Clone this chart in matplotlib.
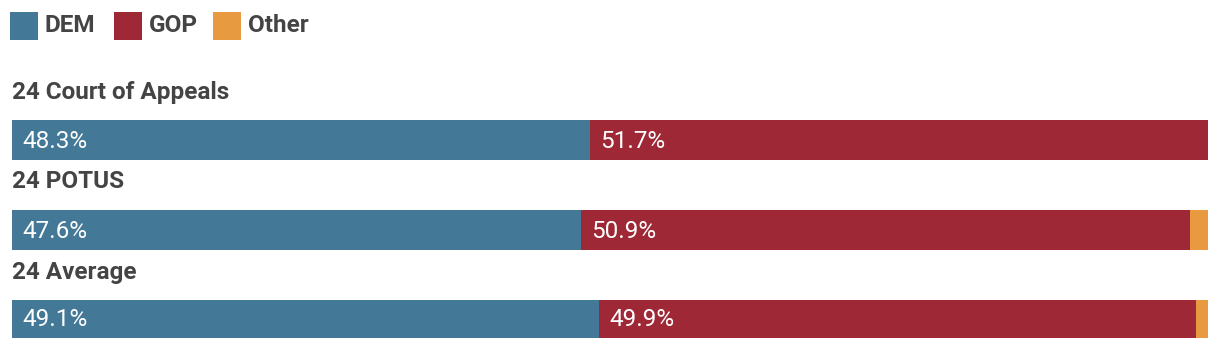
import matplotlib
matplotlib.use("Agg")
import matplotlib.pyplot as plt
from matplotlib.patches import Rectangle

categories = ["24 Court of Appeals", "24 POTUS", "24 Average"]
dem = [48.3, 47.6, 49.1]
gop = [51.7, 50.9, 49.9]
other = [0.0, 1.5, 1.0]
series_names = ["DEM", "GOP", "Other"]
colors = ["#437897", "#9e2835", "#e89a40"]

W, H = 1220, 350
fig = plt.figure(figsize=(W / 100, H / 100), dpi=100)
ax = fig.add_axes([12 / W, 0, 1196 / W, 1])
ax.set_xlim(0, 100)
ax.set_ylim(H, 0)
ax.axis("off")

fam = ["Roboto", "DejaVu Sans"]
text_col = "#444444"

bar_y = [140, 230, 319]
bar_h = [40, 40, 38]
title_y = [91, 181, 271]

for i, cat in enumerate(categories):
    left = 0
    for vals, c in zip([dem, gop, other], colors):
        v = vals[i]
        if v > 0:
            ax.barh(bar_y[i], v, left=left, height=bar_h[i], color=c, linewidth=0)
            if v > 5:
                ax.text(left + 0.85, bar_y[i] + 1, f"{v:.1f}%", color="white",
                        fontsize=17.5, family=fam, fontweight="normal",
                        va="center", ha="left")
        left += v
    ax.text(0, title_y[i] + 1, cat, fontsize=17.5, fontweight="bold", family=fam,
            color=text_col, va="center", ha="left")

# legend
leg_x = [10, 114, 213]
for x, name, c in zip(leg_x, series_names, colors):
    fig.add_artist(Rectangle((x / W, 1 - 40 / H), 28 / W, 28 / H,
                             transform=fig.transFigure, color=c, linewidth=0))
    fig.text((x + 35) / W, 1 - 25 / H, name, fontsize=17.5, fontweight="bold",
             family=fam, color=text_col, va="center", ha="left")

fig.savefig("out.png", dpi=100)
